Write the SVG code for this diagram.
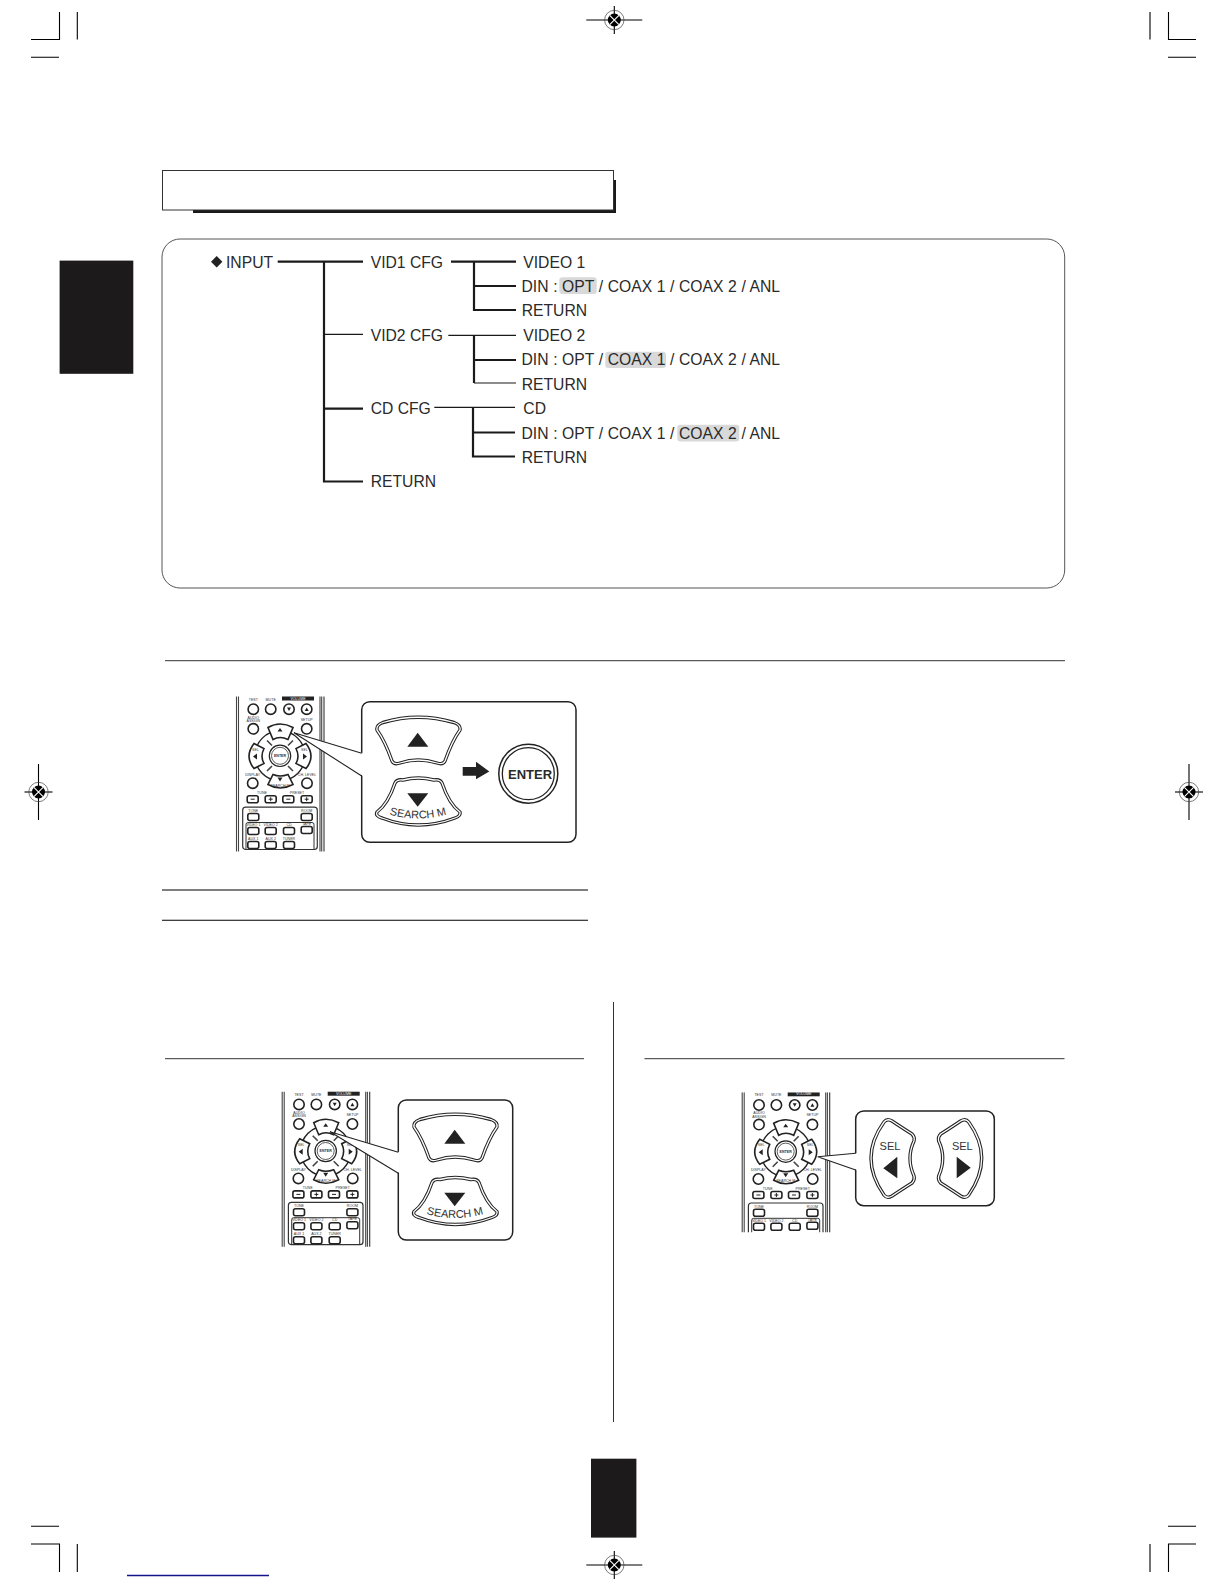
<svg xmlns="http://www.w3.org/2000/svg" width="1224" height="1584" viewBox="0 0 1224 1584">
<style>
text{font-family:"Liberation Sans",Arial,sans-serif;fill:#2a2a2a}
.t{font-size:15.7px}
.d{word-spacing:.25px}
.thick{stroke:#1a1a1a;stroke-width:2.2;fill:none}
.thin{stroke:#1a1a1a;stroke-width:1.2;fill:none}
.crop{stroke:#000;stroke-width:1.1;fill:none}
.rule{stroke:#333;stroke-width:1;fill:none}
.hl{fill:#d9d9d9}
.box{fill:#fff;stroke:#222;stroke-width:1.5}
.wedge{stroke:#222;stroke-width:1.1;fill:none}
.gap{fill:#fff;stroke:none}
.bo{stroke:#222;stroke-width:3.4;fill:#fff;stroke-linejoin:round}
.bi{stroke:#fff;stroke-width:1.3;fill:none;stroke-linejoin:round}
.k{fill:#222}
.blbl{font-size:11px;fill:#333}
.rb{fill:#fff;stroke:#222;stroke-width:1.6}
.rl{font-size:3.6px;text-anchor:middle;fill:#333}
.side{stroke:#444;stroke-width:1.1;fill:none}
</style>
<defs>
<g id="reg">
<line class="crop" x1="-28" x2="28" y1="0" y2="0"/><line class="crop" x1="0" x2="0" y1="-14" y2="14"/>
<circle r="9.7" fill="none" stroke="#444" stroke-width=".7"/><circle r="6.5" fill="#000"/>
<path d="M-4.6-4.6 4.6 4.6M-4.6 4.6 4.6-4.6" stroke="#fff" stroke-width="1.1"/>
</g>
<g id="regv">
<line class="crop" x1="-14" x2="14" y1="0" y2="0"/><line class="crop" x1="0" x2="0" y1="-28" y2="28"/>
<circle r="9.7" fill="none" stroke="#444" stroke-width=".7"/><circle r="6.5" fill="#000"/>
<path d="M-4.6-4.6 4.6 4.6M-4.6 4.6 4.6-4.6" stroke="#fff" stroke-width="1.1"/>
</g>
<path id="upB" d="M377,730 Q376,725 383,722.5 Q418,712 454,722.5 Q461,725 460,730 Q452,741 445,761 Q443,765 437,763 Q418,757 400,763 Q394,765 392,761 Q385,741 377,730Z"/>
<path id="dnB" d="M395,783 Q397,779 403,780 Q418,776 434,780 Q440,779 442,783 Q449,804 460,812 Q461,816 455,818 Q418,832 382,818 Q375,816 377,812 Q388,804 395,783Z"/>
<path id="selB" d="M884,1122 Q887,1118 892,1121 Q904,1129 912,1134 Q915,1137 914,1141 Q906,1158 914,1176 Q915,1180 912,1183 Q904,1188 892,1196 Q887,1199 884,1195 Q858,1158 884,1122Z"/>
<path id="arc" d="M388,814 Q418,823 448,814"/>
<g id="upBtn"><use href="#upB" class="bo"/><use href="#upB" class="bi"/><path class="k" d="M407.3,746.7H428.3L417.7,732.7Z"/></g>
<g id="remote">
<path class="side" d="M.5 0V155M2.5 0V155M84 0V155M85.7 0V155"/><path d="M88 0V155" stroke="#333" stroke-width="1.1"/>
<rect x="46" y="0" width="32" height="4" fill="#222"/>
<text class="rl" x="17.3" y="4">TEST</text><text class="rl" x="34.7" y="4">MUTE</text><text class="rl" x="62" y="3.2" style="fill:#fff">VOLUME</text>
<circle class="rb" cx="17.3" cy="12.7" r="5.2"/><circle class="rb" cx="34.7" cy="12.7" r="5.2"/><circle class="rb" cx="53" cy="12.7" r="5.2"/><circle class="rb" cx="70.7" cy="12.7" r="5.2"/>
<path class="k" d="M51 11H55L53 14.5ZM68.7 14.5H72.7L70.7 11Z"/>
<text class="rl" x="17.3" y="22">AUDIO</text><text class="rl" x="17.3" y="25.5">ASSIGN</text><text class="rl" x="70.7" y="24">SETUP</text>
<circle class="rb" cx="17.3" cy="32.3" r="5.2"/><circle class="rb" cx="70.7" cy="32.3" r="5.2"/>
<circle cx="44" cy="59.3" r="25" fill="none" stroke="#222" stroke-width="1.4"/>
<path d="M36 49 31 44M52 49 57 44M36 69.5 31 74.5M52 69.5 57 74.5" stroke="#444" stroke-width="1.6"/>
<path class="rb" d="M32 31Q44 24 57 31L52 43Q44 39 37 43Z"/>
<path class="rb" d="M37 78Q44 81 52 78L57 88Q44 95 32 88Z"/>
<path class="rb" d="M18 47 28 52Q24 60 28 67L18 72Q8 60 18 47Z"/>
<path class="rb" d="M70 47 60 52Q64 60 60 67L70 72Q80 60 70 47Z"/>
<path class="k" d="M41.5 35H46.5L44 31.500ZM41.5 81H46.5L44 85ZM17 60 21 57V63ZM71 60 67 57V63Z"/>
<text class="rl" x="44" y="90">SEARCH M</text><text class="rl" x="19.5" y="54">SEL</text><text class="rl" x="68.5" y="54">SEL</text>
<circle cx="44" cy="59.3" r="10.7" fill="#fff" stroke="#222" stroke-width="1.2"/><circle cx="44" cy="59.3" r="8.5" fill="#fff" stroke="#333" stroke-width=".8"/><text class="rl" x="44" y="60.5" style="font-weight:bold">ENTER</text>
<text class="rl" x="16.7" y="79">DISPLAY</text><text class="rl" x="71" y="79">CH. LEVEL</text>
<circle class="rb" cx="16.7" cy="86.7" r="5.2"/><circle class="rb" cx="71" cy="86.7" r="5.2"/>
<text class="rl" x="26" y="97.5">TUNE</text><text class="rl" x="61" y="97.5">PRESET</text>
<g class="rb"><rect x="11.2" y="99.2" width="11" height="7" rx="2"/><rect x="29.2" y="99.2" width="11" height="7" rx="2"/><rect x="46.8" y="99.2" width="11" height="7" rx="2"/><rect x="65.2" y="99.2" width="11" height="7" rx="2"/></g>
<path d="M14.7 102.7H18.7M32.7 102.7H36.7M34.7 100.7V104.7M50.3 102.7H54.3M68.7 102.7H72.7M70.7 100.7V104.7" stroke="#222" stroke-width="1"/>
<rect x="6.7" y="110.7" width="74.6" height="42.3" rx="3" fill="none" stroke="#333" stroke-width="1.2"/>
<path d="M10 153V128Q10 126 12 126H76Q78 126 78 128V153" fill="none" stroke="#333" stroke-width="1"/>
<text class="rl" x="17.3" y="115.5">TONE</text><text class="rl" x="70.7" y="115.5">ROOM</text>
<text class="rl" x="17.3" y="129.5">VIDEO 1</text><text class="rl" x="34.7" y="129.5">VIDEO 2</text><text class="rl" x="53" y="129.5">CD</text><text class="rl" x="70.7" y="128.5">TAPE</text>
<text class="rl" x="17.3" y="143.5">AUX 1</text><text class="rl" x="34.7" y="143.5">AUX 2</text><text class="rl" x="53" y="143.5">TUNER</text>
<g class="rb"><rect x="11.8" y="117" width="11" height="7" rx="2"/><rect x="65.2" y="117" width="11" height="7" rx="2"/>
<rect x="11.8" y="131" width="11" height="7" rx="2"/><rect x="29.2" y="131" width="11" height="7" rx="2"/><rect x="47.5" y="131" width="11" height="7" rx="2"/><rect x="65.2" y="130" width="11" height="7" rx="2"/>
<rect x="11.8" y="145" width="11" height="7" rx="2"/><rect x="29.2" y="145" width="11" height="7" rx="2"/><rect x="47.5" y="145" width="11" height="7" rx="2"/></g>
</g>
<clipPath id="c3"><rect x="-2" y="0" width="94" height="140"/></clipPath>
</defs>
<rect width="1224" height="1584" fill="#fff"/>

<g id="crop-marks">
<path class="crop" d="M31 39.5H59.5V12M77.3 12V39.5M31 57.3H59"/>
<path class="crop" d="M1150 12V39.5M1168.5 12V39.5H1196M1168 57.3H1196"/>
<path class="crop" d="M31 1526.3H59M31 1544H59.5V1572M77.3 1544V1572"/>
<path class="crop" d="M1168 1526.3H1196M1196 1544H1168.5V1572M1150 1544V1572"/>
<use href="#reg" x="614.3" y="20"/><use href="#reg" x="614.3" y="1565"/>
<use href="#regv" x="38.5" y="792"/><use href="#regv" x="1189" y="792"/>
</g>

<g id="title-box"><rect x="193" y="180" width="423" height="33" fill="#1a1a1a"/><rect x="162.5" y="170.5" width="451" height="39.5" fill="#fff" stroke="#333"/></g>
<rect id="side-tab" x="59.6" y="260.6" width="73.7" height="113.2" fill="#1c1a1a"/>
<rect id="page-tab" x="591" y="1458.7" width="45.4" height="78.9" fill="#1c1a1a"/>
<rect id="menu-frame" x="162" y="239" width="902.7" height="349" rx="18" fill="#fff" stroke="#555"/>

<g id="connectors">
<path class="thick" d="M277.700 261.700H363M324 261.700V481.500H363M324 408.700H363"/>
<path class="thin" d="M324 334.300H363"/>
<path class="thick" d="M451 261.700H516M474 261.700V310H516M474 286H516"/>
<path class="thin" d="M448.300 335.300H516M516 383H474"/><path class="thick" d="M474 335.300V383"/><path class="thick" d="M474 360H516"/>
<path class="thin" d="M434.300 407.300H515"/><path class="thick" d="M473 407.300V456.500H515M473 432.500H515"/>
</g>

<g id="node-input"><path class="k" d="M216.7 256 222.4 261.700 216.700 267.400 211 261.700Z"/><text class="t" x="226" y="267.700">INPUT</text></g>
<g id="node-vid1"><text class="t" x="370.700" y="267.700">VID1 CFG</text></g>
<g id="node-vid2"><text class="t" x="370.700" y="340.700">VID2 CFG</text></g>
<g id="node-cd"><text class="t" x="370.700" y="414">CD CFG</text></g>
<g id="node-return"><text class="t" x="370.700" y="487">RETURN</text></g>
<g id="node-video1"><text class="t" x="523.300" y="267.700">VIDEO 1</text></g>
<g id="node-din1"><rect class="hl" x="559.300" y="277.300" width="37.400" height="16.700" rx="3"/><text class="t d" x="521.500" y="291.700">DIN : OPT / COAX 1 / COAX 2 / ANL</text></g>
<g id="node-return1"><text class="t" x="521.700" y="316">RETURN</text></g>
<g id="node-video2"><text class="t" x="523.300" y="340.500">VIDEO 2</text></g>
<g id="node-din2"><rect class="hl" x="605.300" y="351.700" width="60.700" height="16.300" rx="3"/><text class="t d" x="521.500" y="365">DIN : OPT / COAX 1 / COAX 2 / ANL</text></g>
<g id="node-return2"><text class="t" x="521.700" y="389.800">RETURN</text></g>
<g id="node-cd-in"><text class="t" x="523.300" y="414">CD</text></g>
<g id="node-din3"><rect class="hl" x="677.300" y="424.800" width="62" height="16.700" rx="3"/><text class="t d" x="521.500" y="439">DIN : OPT / COAX 1 / COAX 2 / ANL</text></g>
<g id="node-return3"><text class="t" x="521.700" y="462.500">RETURN</text></g>

<g id="rules">
<path class="rule" d="M165 660.700H1065M165 1058.700H584M644.500 1058.700H1064.500M613.500 1002V1422"/>
<path d="M162 890H588M162 920.300H588" stroke="#000" stroke-width="1.100"/>
<path d="M127 1575.500H269" stroke="#14148c" stroke-width="1.300"/>
</g>

<g id="panel-1">
<use href="#remote" transform="translate(236 696.500)"/>
<rect class="box" x="361.700" y="701.700" width="214.300" height="140.600" rx="8"/>
<path class="gap" d="M294 732.700 363 753.300V776L294 732.700Z"/>
<path class="wedge" d="M361.700 753.300 294 732.700 361.700 776"/>
<use href="#upBtn"/>
<use href="#dnB" class="bo"/><use href="#dnB" class="bi"/><path class="k" d="M407.300 793.300H428.300L417.700 806.700Z"/>
<text class="blbl" font-size="10.500"><textPath href="#arc" startOffset="50%" text-anchor="middle">SEARCH M</textPath></text>
<path class="k" d="M462.700 767H476V761.700L489.300 771.500 476 779.300V775.700H462.700Z"/>
<circle cx="528.300" cy="773.700" r="29.500" fill="#fff" stroke="#222" stroke-width="1.500"/><circle cx="528.300" cy="773.700" r="26" fill="#fff" stroke="#222" stroke-width="1.300"/>
<text x="530" y="778.500" text-anchor="middle" font-size="13" font-weight="bold">ENTER</text>
</g>

<g id="panel-2">
<use href="#remote" transform="translate(281.700 1091.700)"/>
<rect class="box" x="398.300" y="1100" width="114.400" height="140" rx="8"/>
<path class="gap" d="M330 1131.700 399.600 1152.300V1173.300L330 1131.700Z"/>
<path class="wedge" d="M398.300 1152.300 330 1131.700 398.300 1173.300"/>
<use href="#upBtn" transform="translate(37 397)"/>
<g transform="translate(37 399.500)"><use href="#dnB" class="bo"/><use href="#dnB" class="bi"/><path class="k" d="M407.300 793.300H428.300L417.700 806.700Z"/>
<text class="blbl" font-size="10.500"><textPath href="#arc" startOffset="50%" text-anchor="middle">SEARCH M</textPath></text></g>
</g>

<g id="panel-3">
<g transform="translate(741.700 1092.300)" clip-path="url(#c3)"><use href="#remote"/></g>
<rect class="box" x="855.700" y="1111" width="138.600" height="94.700" rx="8"/>
<path class="gap" d="M817.700 1156.700 857 1153.300V1170L817.700 1156.700Z"/>
<path class="wedge" d="M855.700 1153.300 817.700 1156.700 855.700 1170"/>
<use href="#selB" class="bo"/><use href="#selB" class="bi"/>
<g transform="matrix(-1 0 0 1 1852.700 0)"><use href="#selB" class="bo"/><use href="#selB" class="bi"/></g>
<path class="k" d="M883.300 1168.300 897.300 1156.700V1178.300ZM956.700 1156.700V1178.300L970.700 1167.700Z"/>
<text class="blbl" x="890" y="1150" text-anchor="middle">SEL</text><text class="blbl" x="962.300" y="1150" text-anchor="middle">SEL</text>
</g>
</svg>
